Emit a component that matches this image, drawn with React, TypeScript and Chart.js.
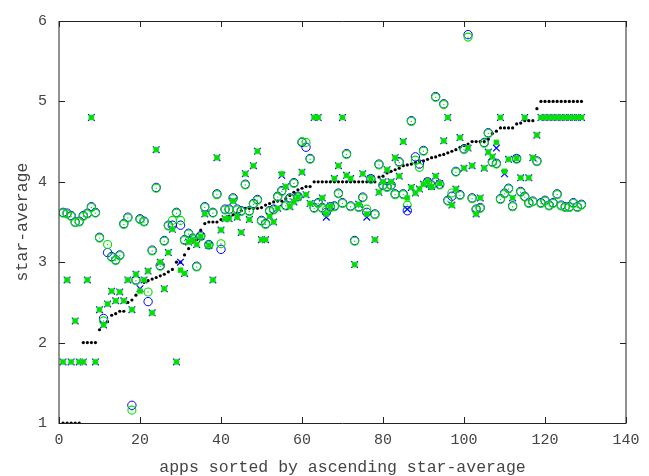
import React, { useEffect, useRef } from 'react';
import { Chart, registerables } from 'chart.js';

Chart.register(...registerables);

// apps ranked 1..129 (x positions)
const appRank: number[] = [
  1, 2, 3, 4, 5, 6, 7, 8, 9, 10, 11, 12, 13, 14, 15, 16, 17, 18, 19, 20,
  21, 22, 23, 24, 25, 26, 27, 28, 29, 30, 31, 32, 33, 34, 35, 36, 37, 38, 39, 40,
  41, 42, 43, 44, 45, 46, 47, 48, 49, 50, 51, 52, 53, 54, 55, 56, 57, 58, 59, 60,
  61, 62, 63, 64, 65, 66, 67, 68, 69, 70, 71, 72, 73, 74, 75, 76, 77, 78, 79, 80,
  81, 82, 83, 84, 85, 86, 87, 88, 89, 90, 91, 92, 93, 94, 95, 96, 97, 98, 99, 100,
  101, 102, 103, 104, 105, 106, 107, 108, 109, 110, 111, 112, 113, 114, 115, 116, 117, 118, 119, 120,
  121, 122, 123, 124, 125, 126, 127, 128, 129,
];

const starAverage: number[] = [
  1, 1, 1, 1, 1, 2, 2, 2, 2, 2.16,
  2.22, 2.26, 2.34, 2.36, 2.39, 2.39, 2.5, 2.53, 2.59, 2.66,
  2.75, 2.77, 2.79, 2.81, 2.83, 2.85, 2.88, 2.91, 3.0, 3.0,
  3.09, 3.17, 3.25, 3.28, 3.4, 3.48, 3.5, 3.5, 3.5, 3.53,
  3.55, 3.57, 3.59, 3.61, 3.64, 3.67, 3.67, 3.67, 3.67, 3.68,
  3.71, 3.73, 3.75, 3.76, 3.76, 3.79, 3.83, 3.87, 3.9, 3.92,
  3.94, 3.94, 4, 4, 4, 4, 4, 4, 4, 4,
  4, 4, 4, 4, 4, 4, 4, 4, 4.06, 4.07,
  4.11, 4.13, 4.15, 4.17, 4.2, 4.21, 4.22, 4.24, 4.25, 4.26,
  4.28, 4.3, 4.31, 4.33, 4.34, 4.36, 4.38, 4.4, 4.43, 4.45,
  4.47, 4.5, 4.5, 4.5, 4.5, 4.53, 4.6, 4.63, 4.67, 4.67,
  4.67, 4.67, 4.72, 4.73, 4.76, 4.76, 4.76, 4.91, 5, 5,
  5, 5, 5, 5, 5, 5, 5, 5, 5,
];

const circleBlue: number[] = [
  3.62, 3.61, 3.58, 3.5, 3.51, 3.58, 3.61, 3.69, 3.62, 3.31,
  2.3, 3.12, 3.07, 3.03, 3.09, 3.48, 3.56, 1.22, 2.78, 3.54,
  3.51, 2.51, 3.15, 3.93, 2.96, 3.27, 3.46, 3.46, 3.62, 3.46,
  3.28, 3.36, 3.3, 2.95, 3.33, 3.69, 3.22, 3.62, 3.85, 3.16,
  3.66, 3.66, 3.8, 3.66, 3.64, 3.97, 3.64, 3.73, 3.78, 3.52,
  3.48, 3.64, 3.66, 3.82, 3.89, 3.71, 3.8, 3.99, 3.82, 4.49,
  4.43, 4.29, 3.68, 3.74, 3.68, 3.62, 3.69, 3.7, 3.86, 3.74,
  4.35, 3.7, 3.27, 3.69, 3.81, 3.62, 4.04, 3.6, 4.22, 3.96,
  3.94, 3.96, 3.85, 4.25, 3.85, 3.64, 4.76, 4.31, 4.22, 4.39,
  4.0, 3.96, 5.06, 3.97, 4.97, 3.77, 3.82, 4.13, 3.84, 4.41,
  5.83, 3.8, 3.66, 3.68, 4.49, 4.61, 4.25, 4.23, 3.79, 3.86,
  3.92, 3.7, 4.29, 3.88, 3.82, 3.74, 3.76, 4.26, 3.74, 3.77,
  3.71, 3.74, 3.85, 3.71, 3.69, 3.69, 3.74, 3.69, 3.72,
];

const circleGreen: number[] = [
  3.61, 3.6, 3.57, 3.49, 3.5, 3.57, 3.6, 3.68, 3.61, 3.3,
  2.27, 3.22, 3.06, 3.02, 3.08, 3.47, 3.55, 1.16, 2.77, 3.53,
  3.5, 2.63, 3.14, 3.92, 2.95, 3.26, 3.45, 3.52, 3.61, 3.52,
  3.27, 3.35, 3.29, 2.94, 3.32, 3.68, 3.21, 3.61, 3.84, 3.23,
  3.65, 3.65, 3.79, 3.65, 3.63, 3.96, 3.63, 3.72, 3.77, 3.51,
  3.47, 3.63, 3.65, 3.81, 3.88, 3.7, 3.79, 3.98, 3.81, 4.5,
  4.49, 4.28, 3.67, 3.73, 3.67, 3.65, 3.68, 3.69, 3.85, 3.73,
  4.34, 3.69, 3.26, 3.68, 3.8, 3.66, 4.03, 3.59, 4.21, 3.95,
  3.93, 3.95, 3.84, 4.24, 3.84, 3.71, 4.75, 4.27, 4.18, 4.38,
  3.99, 3.95, 5.05, 3.96, 4.96, 3.76, 3.86, 4.12, 3.83, 4.4,
  5.8, 3.79, 3.65, 3.67, 4.48, 4.6, 4.24, 4.22, 3.78, 3.85,
  3.91, 3.69, 4.28, 3.87, 3.81, 3.73, 3.75, 4.25, 3.73, 3.76,
  3.7, 3.73, 3.84, 3.7, 3.68, 3.68, 3.73, 3.68, 3.71,
];

const squareGreen: number[] = [
  1.76, 2.78, 1.76, 2.27, 1.76, 1.76, 2.78, 4.8, 1.76, 2.41,
  2.22, 2.48, 2.64, 2.52, 2.63, 2.52, 2.78, 2.41, 2.85, 2.64,
  2.78, 2.89, 2.37, 4.4, 3.0, 2.67, 3.12, 3.41, 1.76, 2.9,
  2.86, 3.25, 3.28, 3.22, 3.32, 3.6, 3.21, 2.78, 4.3, 3.4,
  3.54, 3.54, 3.76, 3.56, 3.37, 4.1, 3.53, 4.2, 4.38, 3.28,
  3.28, 3.57, 3.5, 3.67, 4.1, 3.94, 3.69, 3.75, 3.81, 4.12,
  3.84, 3.73, 4.8, 4.8, 3.8, 3.6, 3.7, 4.04, 4.2, 4.8,
  4.08, 4.04, 2.97, 3.72, 4.1, 3.6, 4.04, 3.28, 3.87, 4.0,
  4.15, 4.0, 4.3, 4.07, 4.5, 3.8, 3.93, 3.86, 3.91, 3.97,
  4.0, 3.94, 4.07, 3.98, 4.51, 4.8, 3.71, 3.91, 4.55, 4.17,
  4.42, 4.2, 3.6, 3.8, 4.17, 4.37, 4.31, 4.49, 4.8, 4.13,
  4.28, 3.8, 4.29, 4.05, 4.8, 4.05, 4.3, 4.58, 4.8, 4.8,
  4.8, 4.8, 4.8, 4.8, 4.8, 4.8, 4.8, 4.8, 4.8,
];

const crossBlue: number[] = [
  1.76, 2.78, 1.76, 2.27, 1.76, 1.76, 2.78, 4.8, 1.76, 2.41,
  2.22, 2.48, 2.64, 2.52, 2.63, 2.52, 2.78, 2.41, 2.85, 2.67,
  2.78, 2.89, 2.37, 4.4, 3.0, 2.67, 3.12, 3.41, 1.76, 3.0,
  2.86, 3.25, 3.28, 3.22, 3.32, 3.6, 3.21, 2.78, 4.3, 3.4,
  3.54, 3.54, 3.76, 3.56, 3.37, 4.1, 3.53, 4.2, 4.38, 3.28,
  3.28, 3.57, 3.5, 3.67, 4.08, 3.94, 3.69, 3.75, 3.81, 4.12,
  3.84, 3.73, 4.8, 4.8, 3.8, 3.56, 3.7, 4.04, 4.2, 4.8,
  4.08, 4.04, 2.97, 3.72, 4.1, 3.56, 4.04, 3.28, 3.87, 4.0,
  4.15, 4.0, 4.3, 4.07, 4.5, 3.66, 3.93, 3.86, 3.91, 3.97,
  4.0, 3.94, 4.07, 3.98, 4.51, 4.8, 3.71, 3.91, 4.55, 4.17,
  4.42, 4.2, 3.6, 3.8, 4.17, 4.37, 4.31, 4.42, 4.8, 4.1,
  4.28, 3.8, 4.29, 4.05, 4.8, 4.05, 4.3, 4.58, 4.8, 4.8,
  4.8, 4.8, 4.8, 4.8, 4.8, 4.8, 4.8, 4.8, 4.8,
];

const xTicks: number[] = [0, 20, 40, 60, 80, 100, 120, 140];
const yTicks: number[] = [1, 2, 3, 4, 5, 6];

const xTitle = 'apps sorted by ascending star-average';
const yTitle = 'star-average';

const FONT = "'Liberation Mono', 'DejaVu Sans Mono', monospace";
const TEXT_COLOR = '#444444';
const BLUE = '#0000ff';
const GREEN = '#00e000';

const framePlugin = {
  id: 'gnuFrame',
  afterDatasetsDraw(chart: any) {
    const { ctx, chartArea, scales } = chart;
    const { left, right, top, bottom } = chartArea;
    const tick = 6;
    ctx.save();
    ctx.lineWidth = 1;
    ctx.strokeStyle = '#222222';
    ctx.beginPath();
    ctx.moveTo(left, Math.round(top) + 0.5);
    ctx.lineTo(right, Math.round(top) + 0.5);
    ctx.moveTo(left, Math.round(bottom) + 0.5);
    ctx.lineTo(right, Math.round(bottom) + 0.5);
    ctx.stroke();
    ctx.beginPath();
    ctx.moveTo(Math.round(left), top);
    ctx.lineTo(Math.round(left), bottom + 1);
    ctx.moveTo(Math.round(right), top);
    ctx.lineTo(Math.round(right), bottom + 1);
    ctx.stroke();
    ctx.beginPath();
    xTicks.forEach((v) => {
      const px = Math.round(scales.x.getPixelForValue(v)) + 0.5;
      ctx.moveTo(px, bottom);
      ctx.lineTo(px, bottom - tick);
      ctx.moveTo(px, top);
      ctx.lineTo(px, top + tick);
    });
    yTicks.forEach((v) => {
      const py = Math.round(scales.y.getPixelForValue(v)) + 0.5;
      ctx.moveTo(left, py);
      ctx.lineTo(left + tick, py);
      ctx.moveTo(right, py);
      ctx.lineTo(right - tick, py);
    });
    ctx.stroke();
    ctx.restore();
  },
};

export default function App() {
  const ref = useRef<HTMLCanvasElement>(null);

  useEffect(() => {
    document.body.style.margin = '0';
    const canvas = ref.current;
    if (!canvas) return;
    const pts = (arr: number[]) => appRank.map((x, k) => ({ x, y: arr[k] }));

    const chart = new Chart(canvas, {
      type: 'scatter',
      data: {
        datasets: [
          {
            label: 'square',
            data: pts(squareGreen),
            pointStyle: 'rect',
            pointRadius: 3.6,
            backgroundColor: GREEN,
            borderColor: '#33dd33',
            borderWidth: 0.5,
          },
          {
            label: 'cross',
            data: pts(crossBlue),
            pointStyle: 'crossRot',
            pointRadius: 4.7,
            borderColor: BLUE,
            borderWidth: 1.2,
          },
          {
            label: 'circle green centre',
            data: pts(circleGreen),
            pointStyle: 'circle',
            pointRadius: 0.7,
            backgroundColor: GREEN,
            borderWidth: 0,
          },
          {
            label: 'circle green',
            data: pts(circleGreen),
            pointStyle: 'circle',
            pointRadius: 4,
            backgroundColor: 'rgba(0,0,0,0)',
            borderColor: GREEN,
            borderWidth: 1.1,
          },
          {
            label: 'circle blue',
            data: pts(circleBlue),
            pointStyle: 'circle',
            pointRadius: 4.2,
            backgroundColor: 'rgba(0,0,0,0)',
            borderColor: BLUE,
            borderWidth: 1,
          },
          {
            label: 'average',
            data: pts(starAverage),
            pointStyle: 'circle',
            pointRadius: 1.6,
            backgroundColor: '#000000',
            borderColor: '#000000',
            borderWidth: 0,
          },
        ],
      },
      options: {
        responsive: false,
        animation: false,
        events: [],
        layout: { padding: { left: 0, right: 23, top: 12, bottom: 0 } },
        plugins: {
          legend: { display: false },
          tooltip: { enabled: false },
        },
        scales: {
          x: {
            type: 'linear',
            min: 0,
            max: 140,
            afterBuildTicks: (s: any) => {
              s.ticks = xTicks.map((v) => ({ value: v }));
            },
            ticks: {
              color: TEXT_COLOR,
              font: { family: FONT, size: 15 },
              padding: 8,
              maxRotation: 0,
              autoSkip: false,
            },
            grid: { display: false, drawTicks: false },
            border: { display: false },
            title: {
              display: true,
              text: xTitle,
              color: TEXT_COLOR,
              font: { family: FONT, size: 16.5, lineHeight: 1 },
              padding: { top: 0, bottom: 0 },
            },
            afterFit: (s: any) => {
              s.height = 53;
            },
          },
          y: {
            type: 'linear',
            min: 1,
            max: 6,
            afterBuildTicks: (s: any) => {
              s.ticks = yTicks.map((v) => ({ value: v }));
            },
            ticks: {
              color: TEXT_COLOR,
              font: { family: FONT, size: 15 },
              padding: 12,
              autoSkip: false,
            },
            grid: { display: false, drawTicks: false },
            border: { display: false },
            title: {
              display: true,
              text: yTitle,
              color: TEXT_COLOR,
              font: { family: FONT, size: 16.5, lineHeight: 1 },
              padding: { top: 14, bottom: 0 },
            },
            afterFit: (s: any) => {
              s.width = 59;
            },
          },
        },
      },
      plugins: [framePlugin],
    });

    return () => chart.destroy();
  }, []);

  return (
    <div style={{ width: 649, height: 476 }}>
      <canvas ref={ref} width={649} height={476} style={{ display: 'block' }} />
    </div>
  );
}
